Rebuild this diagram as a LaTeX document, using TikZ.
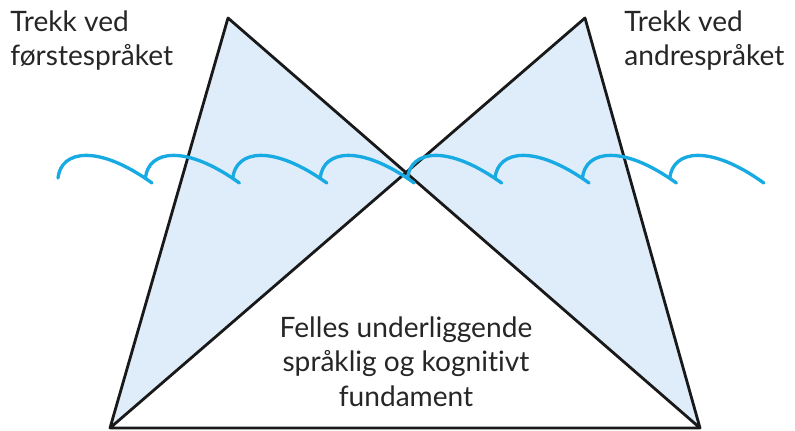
\documentclass[tikz,border=0pt]{standalone}
\usepackage{fontspec}
\setmainfont{Lato}[Ligatures=NoCommon]
\usepackage{tikz}

\definecolor{lightfill}{RGB}{223,237,250}
\definecolor{wave}{RGB}{24,170,226}

\begin{document}
\begin{tikzpicture}[x=0.02cm,y=-0.02cm,
		label/.style={inner sep=0pt, align=#1, font=\fontsize{16}{19.8}\selectfont, text=black!85},
		edge/.style={line width=1.6pt, line join=round, black!90}]
	\useasboundingbox (0,0) rectangle (795,430);
	% corners
	\coordinate (topL) at (228,18);
	\coordinate (topR) at (585,18);
	\coordinate (botL) at (110,428);
	\coordinate (botR) at (700,428);
	\coordinate (mid) at (405,172);
	% shaded triangles
	\fill[lightfill] (topL) -- (mid) -- (botL) -- cycle;
	\fill[lightfill] (topR) -- (mid) -- (botR) -- cycle;
	% outline
	\draw[edge] (botL) -- (topL) -- (botR) -- (botL) -- (topR) -- (botR);
	% waves
	\foreach \i in {0,...,7} {
		\pgfmathsetmacro{\s}{58+87.4*\i}
		\draw[wave, line width=1.9pt, line cap=round]
			(\s,178) .. controls (\s+3,150) and (\s+40,144) .. (\s+94,183);
	}
	% texts
	\node[label=left, anchor=north west] (first) at (10,10) {Trekk ved\\førstespråket};
	\node[label=left, anchor=north west] (second) at (624,10) {Trekk ved\\andrespråket};
	\node[label=center, anchor=north] (base) at (406,316) {Felles underliggende\\språklig og kognitivt\\fundament};
\end{tikzpicture}
\end{document}
